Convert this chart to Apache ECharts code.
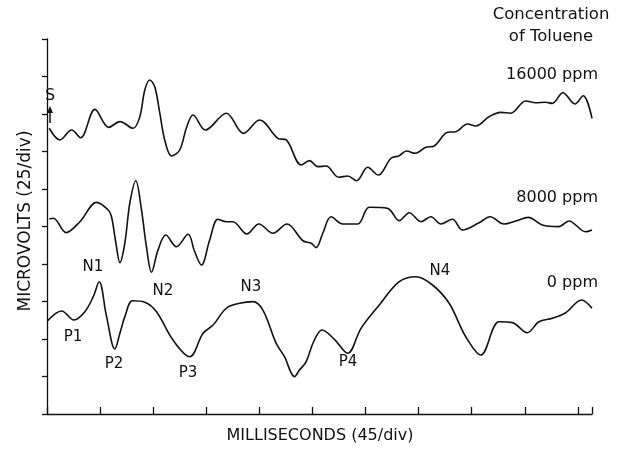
<!DOCTYPE html>
<html>
<head>
<meta charset="utf-8">
<script src="https://cdn.jsdelivr.net/npm/echarts@6/dist/echarts.min.js"></script>
<style>
  html, body { margin: 0; padding: 0; background: #fff; }
  #chart { width: 617px; height: 453px; }
</style>
</head>
<body>
<div id="chart"></div>
<script>
// time axis in milliseconds (45 ms / div), amplitude in microvolts (25 uV / div)
const msPerDiv = 45
const uvPerDiv = 25
const xMax = 462
const yMax = 250

// 16000 ppm trace: [ms, uV]
const toluene16000 = [
  [1.9, 190.5], [11.0, 182.7], [20.9, 189.3], [28.5, 184.2], [40.6, 203.1],
  [52.4, 191.1], [61.8, 194.9], [73.0, 190.5], [78.7, 198.2], [82.9, 216.0],
  [87.1, 222.7], [91.4, 218.0], [95.6, 200.7], [99.8, 182.7], [105.5, 172.0],
  [112.5, 176.0], [118.4, 191.3], [123.8, 199.3], [134.2, 189.3], [152.0, 200.5],
  [166.6, 187.1], [180.2, 196.0], [195.7, 183.8], [202.8, 182.7], [215.5, 166.0],
  [222.5, 168.9], [229.5, 164.9], [236.6, 165.3], [247.3, 157.8], [254.9, 158.7],
  [262.5, 155.5], [271.8, 164.5], [280.8, 159.3], [291.6, 170.5], [298.6, 172.2],
  [304.8, 175.3], [312.1, 173.8], [321.2, 177.8], [328.2, 178.7], [339.5, 187.8],
  [346.6, 188.2], [356.4, 193.3], [363.5, 192.0], [374.7, 198.2], [384.6, 201.1],
  [393.1, 200.5], [405.8, 208.7], [414.2, 207.5], [422.7, 207.8], [428.3, 207.1],
  [437.3, 214.2], [447.5, 206.7], [454.5, 212.2], [462.0, 197.1]
]

// 8000 ppm trace
const toluene8000 = [
  [1.9, 130.0], [5.4, 130.5], [16.2, 120.9], [27.9, 128.2], [42.1, 141.1],
  [51.9, 136.0], [54.7, 131.5], [58.4, 114.0], [61.8, 100.9], [66.0, 114.0],
  [70.2, 140.5], [75.3, 155.5], [80.1, 136.0], [84.3, 111.5], [88.6, 94.5],
  [94.1, 109.3], [100.7, 119.3], [109.7, 111.5], [119.6, 119.8], [125.2, 108.2],
  [130.9, 99.3], [137.9, 116.0], [144.9, 129.8], [152.0, 128.2], [157.6, 128.2],
  [169.4, 120.0], [179.6, 126.7], [191.5, 120.5], [203.4, 126.7], [216.9, 115.5],
  [224.0, 113.8], [228.1, 110.9], [233.8, 120.5], [240.8, 131.5], [250.7, 126.7],
  [263.4, 126.7], [273.2, 137.8], [288.7, 137.1], [298.6, 128.9], [307.1, 134.2],
  [317.0, 128.2], [325.4, 131.5], [333.9, 126.7], [343.7, 129.8], [352.2, 122.7],
  [366.3, 127.5], [375.6, 131.5], [387.4, 126.7], [397.3, 128.7], [408.0, 131.1],
  [419.8, 126.0], [433.9, 124.9], [442.4, 128.7], [456.6, 121.5], [462.0, 122.7]
]

// 0 ppm (control) trace
const toluene0 = [
  [0.3, 62.0], [12.4, 68.7], [22.8, 62.7], [32.1, 68.2], [39.2, 78.2],
  [44.2, 88.2], [50.5, 64.9], [57.5, 43.3], [61.8, 53.8], [66.0, 64.9],
  [72.5, 75.5], [82.9, 74.5], [92.8, 68.2], [106.8, 49.3], [121.0, 38.2],
  [132.3, 53.8], [140.8, 59.3], [152.0, 70.5], [163.3, 73.8], [174.5, 74.9],
  [183.0, 69.3], [194.3, 47.1], [201.3, 38.2], [209.8, 24.9], [214.0, 29.3],
  [219.7, 34.9], [225.9, 48.0], [233.2, 56.0], [243.6, 49.8], [254.9, 40.5],
  [266.2, 57.1], [281.7, 72.7], [298.6, 88.2], [312.7, 91.5], [326.8, 86.0],
  [340.9, 73.8], [355.0, 51.5], [367.7, 39.3], [383.2, 61.5], [394.4, 60.9],
  [407.1, 54.2], [417.0, 61.5], [428.4, 63.8], [439.7, 67.5], [453.2, 76.0],
  [462.0, 70.5]
]

// 标注文字
const peakLabels = [
  { text: 'N1', x: 93, y: 267 },
  { text: 'N2', x: 163, y: 291 },
  { text: 'N3', x: 251, y: 287 },
  { text: 'N4', x: 440, y: 271 },
  { text: 'P1', x: 73, y: 337 },
  { text: 'P2', x: 114, y: 364 },
  { text: 'P3', x: 188, y: 373 },
  { text: 'P4', x: 348, y: 362 }
]
const traceLabels = [
  { text: '16000 ppm', y: 75 },
  { text: '8000 ppm', y: 198 },
  { text: '0 ppm', y: 283 }
]

const ink = '#111'
const font = 'DejaVu Sans'

const chart = echarts.init(document.getElementById('chart'))

const makeSeries = (name, data) => ({
  name: name,
  type: 'line',
  data: data,
  smooth: 0.35,
  symbol: 'none',
  lineStyle: { color: ink, width: 1.6 },
  animation: false
})

const textEl = (text, x, y, size, align) => ({
  type: 'text',
  left: undefined,
  x: x,
  y: y,
  style: {
    text: text,
    fill: ink,
    font: size + 'px "' + font + '"',
    textAlign: align || 'center',
    textVerticalAlign: 'middle'
  }
})

const graphics = []
peakLabels.forEach((p) => graphics.push(textEl(p.text, p.x, p.y, 15)))
traceLabels.forEach((t) => graphics.push(textEl(t.text, 598, t.y, 16, 'right')))
graphics.push(textEl('Concentration', 551, 15, 16.5))
graphics.push(textEl('of Toluene', 551, 37, 16.5))
graphics.push(textEl('MILLISECONDS (45/div)', 320, 436, 16))
graphics.push(textEl('S', 50, 96, 16))
graphics.push({
  type: 'text',
  x: 26,
  y: 221,
  rotation: Math.PI / 2,
  style: {
    text: 'MICROVOLTS (25/div)',
    fill: ink,
    font: '17px "' + font + '"',
    textAlign: 'center',
    textVerticalAlign: 'middle'
  }
})
// stimulus arrow
graphics.push({
  type: 'line',
  shape: { x1: 50, y1: 109, x2: 50, y2: 123 },
  style: { stroke: ink, lineWidth: 1.5 }
})
graphics.push({
  type: 'polygon',
  shape: { points: [[47, 113], [50, 106], [53, 113]] },
  style: { fill: ink }
})

const option = {
  backgroundColor: '#fff',
  animation: false,
  grid: { left: 47, right: 25, top: 39, bottom: 39 },
  xAxis: {
    type: 'value',
    min: 0,
    max: xMax,
    interval: msPerDiv,
    axisLine: { show: true, lineStyle: { color: ink, width: 1.3 } },
    axisTick: { show: true, inside: true, length: 7, lineStyle: { color: ink, width: 1.3 } },
    axisLabel: { show: false },
    splitLine: { show: false }
  },
  yAxis: {
    type: 'value',
    min: 0,
    max: yMax,
    interval: uvPerDiv,
    axisLine: { show: true, lineStyle: { color: ink, width: 1.3 } },
    axisTick: { show: true, inside: false, length: 5, lineStyle: { color: ink, width: 1.3 } },
    axisLabel: { show: false },
    splitLine: { show: false }
  },
  series: [
    makeSeries('16000 ppm', toluene16000),
    makeSeries('8000 ppm', toluene8000),
    makeSeries('0 ppm', toluene0)
  ],
  graphic: graphics
}

chart.setOption(option)
</script>
</body>
</html>
